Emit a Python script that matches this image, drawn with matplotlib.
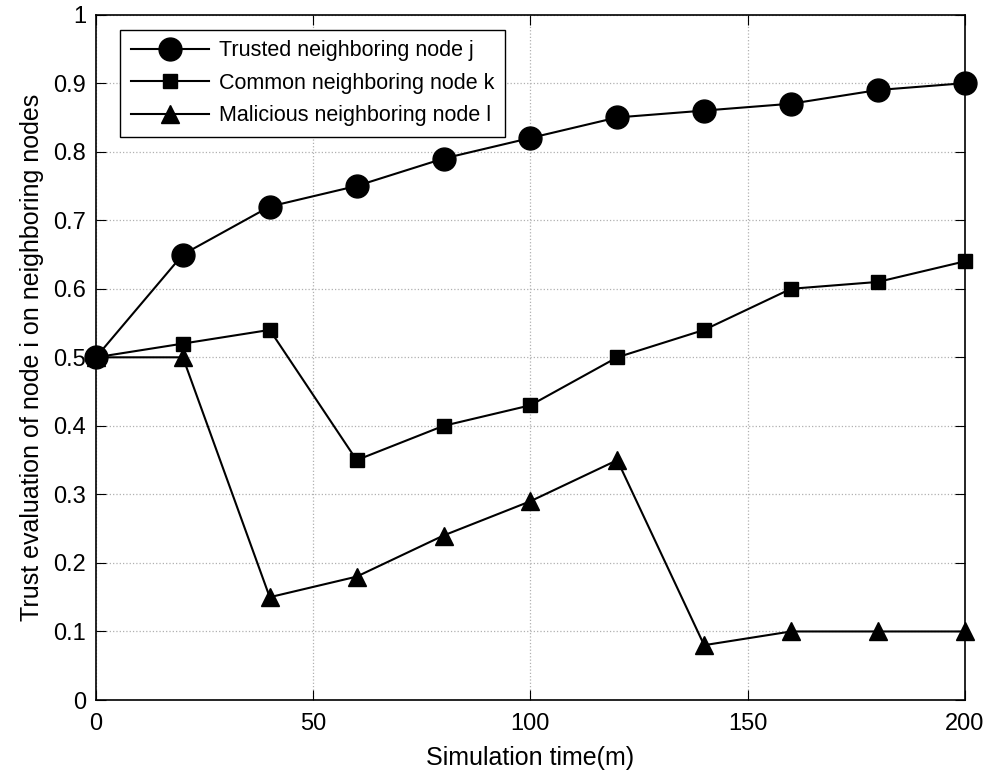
import numpy as np
import matplotlib
matplotlib.use('Agg')
import matplotlib.pyplot as plt

# --- dati ---
time_m = [0, 20, 40, 60, 80, 100, 120, 140, 160, 180, 200]
trusted_j = [0.50, 0.65, 0.72, 0.75, 0.79, 0.82, 0.85, 0.86, 0.87, 0.89, 0.90]
common_k = [0.50, 0.52, 0.54, 0.35, 0.40, 0.43, 0.50, 0.54, 0.60, 0.61, 0.64]
malicious_l = [0.50, 0.50, 0.15, 0.18, 0.24, 0.29, 0.35, 0.08, 0.10, 0.10, 0.10]

labels = ['Trusted neighboring node j',
          'Common neighboring node k',
          'Malicious neighboring node l']

plt.rcParams['font.family'] = ['Liberation Sans', 'DejaVu Sans']

fig = plt.figure(figsize=(10.05, 7.74), dpi=100)
ax = fig.add_axes([0.0955, 0.0956, 0.8645, 0.8855])

ax.plot(time_m, trusted_j, '-o', color='black', lw=1.5, ms=16.5, clip_on=False, zorder=3, label=labels[0])
ax.plot(time_m, common_k, '-s', color='black', lw=1.5, ms=10.5, clip_on=False, zorder=3, label=labels[1])
ax.plot(time_m, malicious_l, '-^', color='black', lw=1.5, ms=12.5, clip_on=False, zorder=3, label=labels[2])

ax.set_xlim(0, 200)
ax.set_ylim(0, 1)
ax.set_xticks(np.arange(0, 201, 50))
ax.set_yticks(np.arange(0, 1.01, 0.1))
ax.set_yticklabels(['0', '0.1', '0.2', '0.3', '0.4', '0.5', '0.6', '0.7', '0.8', '0.9', '1'])
ax.grid(True, linestyle=':', color='#b0b0b0', lw=0.9)
ax.tick_params(direction='in', labelsize=17, length=7, top=True, right=True)
ax.tick_params(axis='x', pad=9)
ax.tick_params(axis='y', pad=7)
for s in ax.spines.values():
    s.set_linewidth(1.2)

ax.set_xlabel('Simulation time(m)', fontsize=18, labelpad=8)
ax.set_ylabel('Trust evaluation of node i on neighboring nodes', fontsize=18, labelpad=7)

leg = ax.legend(loc='upper left', bbox_to_anchor=(0.028, 0.978), fontsize=15.5,
                fancybox=False, edgecolor='black', framealpha=1,
                handlelength=3.6, handletextpad=0.5, borderpad=0.5,
                labelspacing=0.53, borderaxespad=0)
leg.get_frame().set_linewidth(1.0)

fig.savefig('out.png', dpi=100)
